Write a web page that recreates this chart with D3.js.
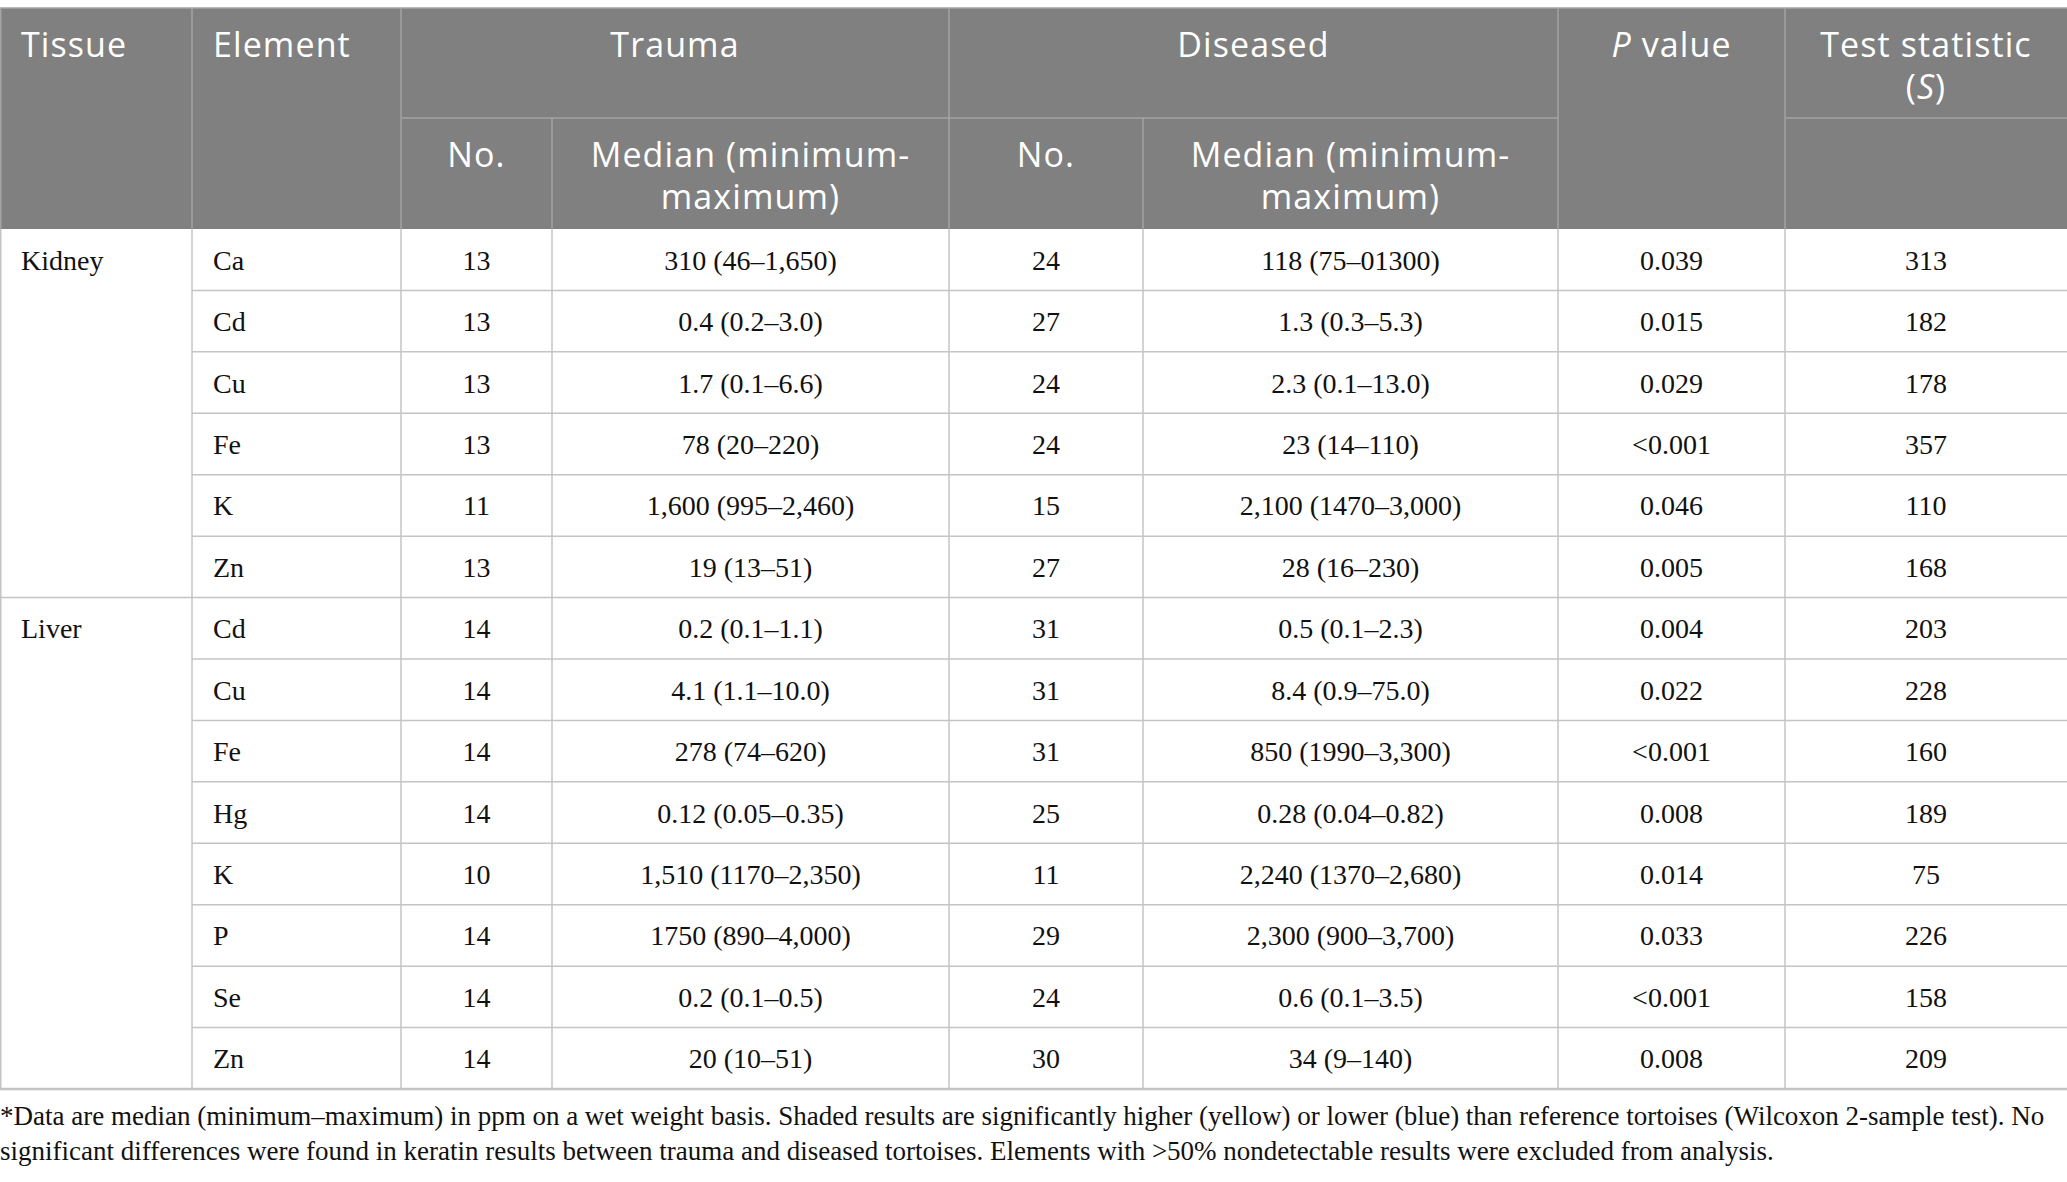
<!DOCTYPE html>
<html>
<head>
<meta charset="utf-8">
<script src="https://cdn.jsdelivr.net/npm/d3@7"></script>
<style>
  body { margin: 0; background: #fff; }
  svg { display: block; }
</style>
</head>
<body>
<div id="holder"></div>
<script>
// table values
const tissues = ['Kidney', 'Liver'];
const tissueOf = ['Kidney','Kidney','Kidney','Kidney','Kidney','Kidney',
  'Liver','Liver','Liver','Liver','Liver','Liver','Liver','Liver'];
const elements = ['Ca','Cd','Cu','Fe','K','Zn','Cd','Cu','Fe','Hg','K','P','Se','Zn'];
const traumaNo = [13, 13, 13, 13, 11, 13, 14, 14, 14, 14, 10, 14, 14, 14];
const traumaMedian = ['310 (46–1,650)', '0.4 (0.2–3.0)', '1.7 (0.1–6.6)', '78 (20–220)',
  '1,600 (995–2,460)', '19 (13–51)', '0.2 (0.1–1.1)', '4.1 (1.1–10.0)', '278 (74–620)',
  '0.12 (0.05–0.35)', '1,510 (1170–2,350)', '1750 (890–4,000)', '0.2 (0.1–0.5)', '20 (10–51)'];
const diseasedNo = [24, 27, 24, 24, 15, 27, 31, 31, 31, 25, 11, 29, 24, 30];
const diseasedMedian = ['118 (75–01300)', '1.3 (0.3–5.3)', '2.3 (0.1–13.0)', '23 (14–110)',
  '2,100 (1470–3,000)', '28 (16–230)', '0.5 (0.1–2.3)', '8.4 (0.9–75.0)', '850 (1990–3,300)',
  '0.28 (0.04–0.82)', '2,240 (1370–2,680)', '2,300 (900–3,700)', '0.6 (0.1–3.5)', '34 (9–140)'];
const pValues = ['0.039','0.015','0.029','<0.001','0.046','0.005','0.004','0.022','<0.001',
  '0.008','0.014','0.033','<0.001','0.008'];
const testStats = [313, 182, 178, 357, 110, 168, 203, 228, 160, 189, 75, 226, 158, 209];
const footnote = [
  '*Data are median (minimum–maximum) in ppm on a wet weight basis. Shaded results are significantly higher (yellow) or lower (blue) than reference tortoises (Wilcoxon 2-sample test). No',
  'significant differences were found in keratin results between trauma and diseased tortoises. Elements with >50% nondetectable results were excluded from analysis.'
];

const w = 2067, h = 1182;
const colKeys = ['tissue','element','tNo','tMed','dNo','dMed','p','s'];
const colWidths = [192, 209, 151, 397, 194, 415, 227, 282];
const colEdges = [0, ...d3.cumsum(colWidths)];
const xLeft = d3.scaleOrdinal().domain(colKeys).range(colEdges.slice(0, -1));
const colW = d3.scaleOrdinal().domain(colKeys).range(colWidths);
const xMid = k => xLeft(k) + colW(k) / 2;

const tableTop = 8, subTop = 118, headBottom = 229, tableBottom = 1089;
const yRow = d3.scaleBand().domain(d3.range(elements.length)).range([headBottom, tableBottom]);

const headFill = '#808080', headLine = '#a3a3a3', bodyLine = '#c4c4c4';
const sans = '"Open Sans", "Noto Sans", sans-serif';
const serif = '"Liberation Serif", "DejaVu Serif", serif';

const svg = d3.select('#holder').append('svg')
  .attr('width', w).attr('height', h)
  .attr('viewBox', `0 0 ${w} ${h}`);

// header background
svg.append('rect')
  .attr('x', 0).attr('y', tableTop)
  .attr('width', w).attr('height', headBottom - tableTop)
  .attr('fill', headFill);

// header lines
const hl = svg.append('g').attr('stroke', headLine).attr('stroke-width', 1.5);
hl.append('line').attr('x1', 0).attr('x2', w).attr('y1', tableTop).attr('y2', tableTop);
// line under the group headers
[['tNo','tMed'], ['dNo','dMed'], ['s','s']].forEach(([a, b]) => {
  hl.append('line')
    .attr('x1', xLeft(a)).attr('x2', xLeft(b) + colW(b))
    .attr('y1', subTop).attr('y2', subTop);
});
// vertical separators in the header
['element','tNo','dNo','p','s'].forEach(k => {
  hl.append('line').attr('x1', xLeft(k)).attr('x2', xLeft(k))
    .attr('y1', tableTop).attr('y2', headBottom);
});
['tMed','dMed'].forEach(k => {
  hl.append('line').attr('x1', xLeft(k)).attr('x2', xLeft(k))
    .attr('y1', subTop).attr('y2', headBottom);
});
hl.append('line').attr('x1', 0.75).attr('x2', 0.75).attr('y1', tableTop).attr('y2', headBottom);

// header text
const ht = svg.append('g')
  .attr('font-family', sans).attr('font-size', 34)
  .attr('fill', '#fff').attr('letter-spacing', 1.1);
const b1 = 57, b2 = 167, lh = 41.5;
ht.append('text').attr('x', xLeft('tissue') + 21).attr('y', b1).text('Tissue');
ht.append('text').attr('x', xLeft('element') + 21).attr('y', b1).text('Element');
ht.append('text').attr('x', (xLeft('tNo') + xLeft('dNo')) / 2).attr('y', b1)
  .attr('text-anchor', 'middle').text('Trauma');
ht.append('text').attr('x', (xLeft('dNo') + xLeft('p')) / 2).attr('y', b1)
  .attr('text-anchor', 'middle').text('Diseased');
const pv = ht.append('text').attr('x', xMid('p')).attr('y', b1).attr('text-anchor', 'middle');
pv.append('tspan').attr('font-style', 'italic').text('P');
pv.append('tspan').text(' value');
ht.append('text').attr('x', xMid('s')).attr('y', b1).attr('text-anchor', 'middle').text('Test statistic');
const st = ht.append('text').attr('x', xMid('s')).attr('y', b1 + lh).attr('text-anchor', 'middle');
st.append('tspan').text('(');
st.append('tspan').attr('font-style', 'italic').text('S');
st.append('tspan').text(')');
['tNo','dNo'].forEach(k => {
  ht.append('text').attr('x', xMid(k)).attr('y', b2).attr('text-anchor', 'middle').text('No.');
});
['tMed','dMed'].forEach(k => {
  ht.append('text').attr('x', xMid(k)).attr('y', b2).attr('text-anchor', 'middle').text('Median (minimum-');
  ht.append('text').attr('x', xMid(k)).attr('y', b2 + lh).attr('text-anchor', 'middle').text('maximum)');
});

// body grid
const bl = svg.append('g').attr('stroke', bodyLine).attr('stroke-width', 1.5);
elements.forEach((el, i) => {
  const y = yRow(i) + yRow.bandwidth();
  const first = i + 1 < elements.length && tissueOf[i + 1] !== tissueOf[i];
  const last = i === elements.length - 1;
  bl.append('line')
    .attr('x1', first || last ? 0 : xLeft('element')).attr('x2', w)
    .attr('y1', y).attr('y2', y)
    .attr('stroke-width', last ? 2.5 : 1.5);
});
colKeys.slice(1).forEach(k => {
  bl.append('line').attr('x1', xLeft(k)).attr('x2', xLeft(k))
    .attr('y1', headBottom).attr('y2', tableBottom);
});
bl.append('line').attr('x1', 0.75).attr('x2', 0.75).attr('y1', headBottom).attr('y2', tableBottom);

// body text
const bt = svg.append('g').attr('font-family', serif).attr('font-size', 28).attr('fill', '#111');
const cy = i => yRow(i) + yRow.bandwidth() / 2 + 10;

tissues.forEach(t => {
  const i = tissueOf.indexOf(t);
  bt.append('text').attr('x', xLeft('tissue') + 21).attr('y', cy(i)).text(t);
});

const cols = [
  ['element', elements, 'start'],
  ['tNo', traumaNo, 'middle'],
  ['tMed', traumaMedian, 'middle'],
  ['dNo', diseasedNo, 'middle'],
  ['dMed', diseasedMedian, 'middle'],
  ['p', pValues, 'middle'],
  ['s', testStats, 'middle']
];
cols.forEach(([k, vals, anchor]) => {
  bt.selectAll(null)
    .data(vals)
    .enter()
    .append('text')
    .attr('x', anchor === 'start' ? xLeft(k) + 21 : xMid(k))
    .attr('y', (d, i) => cy(i))
    .attr('text-anchor', anchor)
    .text(d => d);
});

// footnote
const fn = svg.append('g').attr('font-family', serif).attr('font-size', 27).attr('fill', '#111');
fn.selectAll(null)
  .data(footnote)
  .enter()
  .append('text')
  .attr('x', 0)
  .attr('y', (d, i) => 1125 + i * 35)
  .text(d => d);
</script>
</body>
</html>
